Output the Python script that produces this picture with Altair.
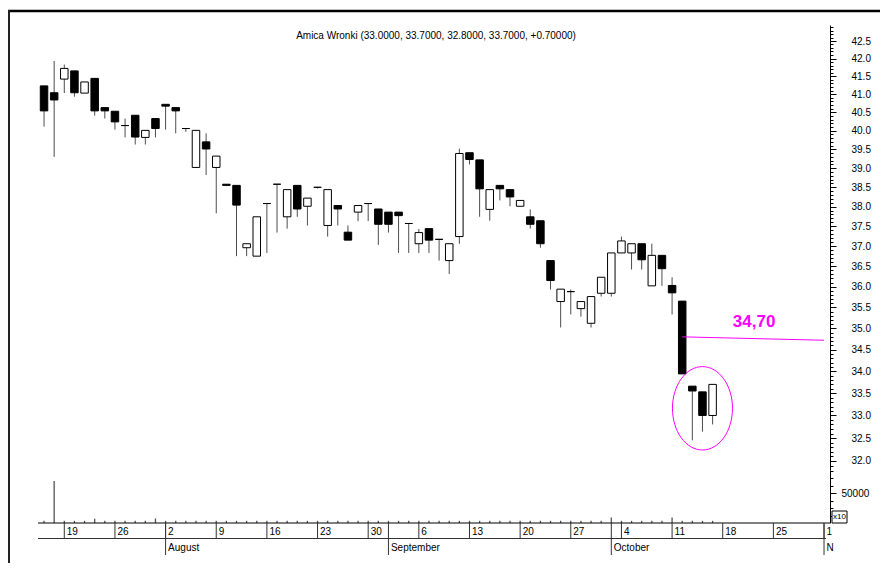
import altair as alt
import pandas as pd

# ---------------- data ----------------
title_text = "Amica Wronki (33.0000, 33.7000, 32.8000, 33.7000, +0.70000)"

first_day = "2004-07-15"
axis_last_day = "2004-11-05"

opens = [41.23, 41.04, 41.42, 41.65, 41.03, 41.44, 40.63, 40.53, 40.14, 40.42,
         39.82, 40.33, 40.72, 40.63, 40.06, 39.02, 39.70, 39.02, 38.58, 38.55,
         36.96, 36.75, 38.08, 38.58, 37.74, 38.55, 38.01, 38.50, 37.52, 38.03,
         37.35, 37.86, 38.08, 37.94, 37.86, 37.86, 37.57, 37.06, 37.44, 37.17,
         36.64, 37.24, 39.41, 39.22, 37.93, 38.55, 38.44, 38.01, 37.74, 37.64,
         36.64, 35.64, 35.88, 35.47, 35.12, 35.84, 35.84, 36.83, 36.83, 37.06,
         36.02, 36.77, 36.03, 35.65, 33.66, 33.53, 33.00]
highs = [41.23, 41.93, 41.83, 41.65, 41.34, 41.44, 40.63, 40.53, 40.33, 40.42,
         40.01, 40.33, 40.72, 40.63, 40.06, 40.01, 39.93, 39.32, 38.58, 38.55,
         37.06, 37.74, 38.08, 38.58, 38.44, 38.55, 38.22, 38.50, 38.44, 38.03,
         37.52, 38.03, 38.08, 37.94, 37.86, 37.86, 37.57, 37.43, 37.44, 37.17,
         37.06, 39.52, 39.41, 39.22, 38.44, 38.55, 38.44, 38.16, 37.93, 37.64,
         36.64, 35.94, 35.93, 35.64, 35.76, 36.23, 36.83, 37.24, 37.06, 37.06,
         37.06, 36.77, 36.23, 35.65, 33.66, 33.53, 33.70]
lows = [40.11, 39.30, 41.03, 40.93, 41.03, 40.41, 40.33, 40.03, 39.82, 39.63,
        39.63, 39.82, 40.03, 39.93, 39.97, 39.02, 38.82, 37.83, 38.53, 36.75,
        36.75, 36.75, 36.83, 37.34, 37.44, 37.74, 37.52, 38.47, 37.24, 37.52,
        37.15, 37.63, 37.63, 37.03, 37.34, 36.83, 36.83, 36.83, 36.83, 36.64,
        36.31, 37.06, 39.10, 37.74, 37.64, 38.16, 38.01, 38.01, 37.44, 36.96,
        35.93, 35.02, 35.33, 35.28, 35.02, 35.76, 35.76, 36.83, 36.42, 36.42,
        36.02, 36.02, 35.33, 33.94, 32.45, 32.64, 32.80]
closes = [40.54, 40.84, 41.72, 41.04, 41.34, 40.54, 40.54, 40.24, 40.14, 39.83,
          40.01, 40.06, 40.67, 40.54, 40.06, 40.01, 39.51, 39.32, 38.55, 38.04,
          37.06, 37.74, 38.08, 38.58, 38.44, 37.94, 38.22, 38.50, 38.44, 37.94,
          37.15, 38.03, 38.08, 37.55, 37.55, 37.77, 37.57, 37.34, 37.15, 37.17,
          37.06, 39.39, 39.23, 38.46, 38.44, 38.46, 38.25, 38.16, 37.55, 37.06,
          36.15, 35.94, 35.88, 35.64, 35.76, 36.23, 36.83, 37.13, 37.06, 36.66,
          36.77, 36.44, 35.85, 33.94, 33.55, 33.00, 33.70]
volumes = [3700, 70500, 3700, 3700, 3700, 7300, 3700, 3700, 3700, 3700,
           3700, 7600, 3700, 3700, 3700, 3700, 3700, 3700, 3700, 3700,
           3700, 3700, 3700, 3700, 3700, 3700, 3700, 3700, 3700, 3700,
           3700, 3700, 3700, 3700, 3700, 3700, 3700, 3700, 3700, 3700,
           3700, 3700, 3700, 3700, 3700, 3700, 3700, 3700, 3700, 3700,
           3700, 3700, 3700, 3700, 3700, 3700, 9200, 3700, 3700, 3700,
           3700, 3700, 9200, 3700, 3700, 3700, 3700]

week_dates = ["2004-07-19", "2004-07-26", "2004-08-02", "2004-08-09", "2004-08-16",
              "2004-08-23", "2004-08-30", "2004-09-06", "2004-09-13", "2004-09-20",
              "2004-09-27", "2004-10-04", "2004-10-11", "2004-10-18", "2004-10-25",
              "2004-11-01"]
week_labels = ["19", "26", "2", "9", "16", "23", "30", "6", "13", "20", "27",
               "4", "11", "18", "25", "1"]
month_dates = ["2004-08-02", "2004-09-01", "2004-10-01", "2004-11-01"]
month_labels = ["August", "September", "October", "November"]

price_ticks = [round(31.9 + 0.1 * i, 1) for i in range(111)]
volume_ticks = [12500, 25000, 37500, 50000, 62500, 75000, 87500]

level_dates = ["2004-10-12", "2004-11-01"]
level_prices = [34.80, 34.72]
level_text = "34,70"
level_text_date = "2004-10-19"
level_text_price = 34.70
ring_date = "2004-10-14"
ring_price = 33.16

# ---------------- tables ----------------
days = pd.bdate_range(first_day, axis_last_day)
slot = {d.strftime("%Y-%m-%d"): i for i, d in enumerate(days)}
trade_days = [d.strftime("%Y-%m-%d") for d in days[:len(opens)]]

candles = pd.DataFrame({
    "date": trade_days,
    "idx": [slot[d] for d in trade_days],
    "open": opens, "high": highs, "low": lows, "close": closes,
    "volume": volumes,
})
weeks = pd.DataFrame({"idx": [slot[d] for d in week_dates], "label": week_labels})
months = pd.DataFrame({"idx": [slot[d] for d in month_dates], "label": month_labels})
level = pd.DataFrame({"idx": [slot[d] for d in level_dates], "price": level_prices})
level_lab = pd.DataFrame({"idx": [slot[level_text_date]], "price": [level_text_price],
                          "label": [level_text]})
ring = pd.DataFrame({"idx": [slot[ring_date]], "price": [ring_price]})
one = pd.DataFrame({"k": [0]})

# ---------------- scales / axes ----------------
FONT = "Liberation Sans, Arial, sans-serif"
W, H = 792, 498
xs = alt.Scale(domain=[-0.596, 77.59], nice=False, zero=False, padding=0)


def X():
    return alt.X("idx:Q", scale=xs, axis=None)


is_major = "abs(datum.value * 2 - round(datum.value * 2)) < 0.001"
ps = alt.Scale(type="log", domain=[31.806, 42.962], range=[445, 0], nice=False)
price_axis = alt.Axis(
    orient="right", values=price_ticks, title=None, grid=False,
    labelExpr=f"{is_major} ? format(datum.value, '.1f') : ''",
    tickSize={"condition": {"test": is_major, "value": 6}, "value": 3},
    tickColor="black", domainColor="black", labelColor="black",
    labelFont=FONT, labelFontSize=10, labelAlign="left", labelBaseline="middle",
    labelPadding=15, labelOverlap=False, labelFlush=False, labelBound=False,
)


def PY(field):
    return alt.Y(field, scale=ps, axis=price_axis)


vs = alt.Scale(domain=[0, 89200], range=[H, 445], nice=False, zero=True)
vol_axis = alt.Axis(
    orient="right", values=volume_ticks, title=None, grid=False,
    labelExpr="datum.value == 50000 ? '50000' : ''",
    tickSize={"condition": {"test": "datum.value == 50000", "value": 6}, "value": 3},
    tickColor="black", domainColor="black", labelColor="black",
    labelFont=FONT, labelFontSize=10, labelAlign="left", labelBaseline="middle",
    labelPadding=5, labelOverlap=False, labelFlush=False, labelBound=False,
)

# ---------------- price layers ----------------
base = alt.Chart(candles)
wicks = base.mark_rule(color="#4d4d4d", strokeWidth=1).encode(
    x=X(), y=PY("low:Q"), y2="high:Q")
bodies = base.mark_bar(size=7.5, stroke="black", strokeWidth=1).encode(
    x=X(), y=PY("open:Q"), y2="close:Q",
    fill=alt.condition("datum.close >= datum.open", alt.value("white"), alt.value("black")))
level_line = alt.Chart(level).mark_line(color="#ff00ff", strokeWidth=1).encode(
    x=X(), y=PY("price:Q"))
level_label = alt.Chart(level_lab).mark_text(
    color="#ff00ff", fontSize=17, fontWeight="bold", font=FONT,
    align="left", baseline="alphabetic", dy=-14).encode(
    x=X(), y=PY("price:Q"), text="label:N")
ellipse_path = "M -0.72 0 A 0.72 1 0 1 1 0.72 0 A 0.72 1 0 1 1 -0.72 0 Z"
ring_mark = alt.Chart(ring).mark_point(
    shape=ellipse_path, size=6956, filled=False, color="#ff00ff",
    strokeWidth=1, opacity=1).encode(x=X(), y=PY("price:Q"))

price_layer = alt.layer(wicks, bodies, level_line, level_label, ring_mark)

# ---------------- volume ----------------
vol_layer = base.mark_rule(color="#555555", strokeWidth=1.3).encode(
    x=X(), y=alt.Y("volume:Q", scale=vs, axis=vol_axis), y2=alt.datum(0))

# ---------------- decorations: date axis, frame, title ----------------
axis_line = alt.Chart(one).mark_rule(color="black", strokeWidth=1).encode(
    x=alt.value(0), x2=alt.value(W), y=alt.value(H))
row_line = alt.Chart(one).mark_rule(color="#333333", strokeWidth=1).encode(
    x=alt.value(0), x2=alt.value(788), y=alt.value(513.5))
week_sep = alt.Chart(weeks).mark_rule(color="#333333", strokeWidth=1).encode(
    x=X(), y=alt.value(H), y2=alt.value(513.5))
month_sep = alt.Chart(months).mark_rule(color="#333333", strokeWidth=1).encode(
    x=X(), y=alt.value(H), y2=alt.value(530))
week_text = alt.Chart(weeks).mark_text(
    align="left", baseline="alphabetic", dx=2.5, fontSize=10, font=FONT,
    color="black").encode(x=X(), y=alt.value(510), text="label:N")
month_text = alt.Chart(months).transform_calculate(
    shown="datum.label == 'November' ? substring(datum.label, 0, 1) : datum.label"
).mark_text(
    align="left", baseline="alphabetic", dx=2.5, fontSize=10, font=FONT,
    color="black").encode(x=X(), y=alt.value(525.5), text="shown:N")

x10_box = alt.Chart(one).mark_rect(fill="white", stroke="black", strokeWidth=1).encode(
    x=alt.value(794), x2=alt.value(809), y=alt.value(486), y2=alt.value(498))
x10_text = alt.Chart(one).mark_text(fontSize=8, font=FONT, color="black",
                                    align="center", baseline="middle").encode(
    x=alt.value(801.5), y=alt.value(492), text=alt.value("x10"))

frame_top = alt.Chart(one).mark_rule(color="black", strokeWidth=2.5).encode(
    x=alt.value(-30), x2=alt.value(845), y=alt.value(-14))
frame_left = alt.Chart(one).mark_rule(color="#222222", strokeWidth=2).encode(
    x=alt.value(-29), y=alt.value(-15), y2=alt.value(540))

title_mark = alt.Chart(one).mark_text(fontSize=10, font=FONT, color="black",
                                      align="center", baseline="middle").encode(
    x=alt.value(398), y=alt.value(11), text=alt.value(title_text))

chart = alt.layer(
    price_layer, vol_layer,
    axis_line, row_line, week_sep, month_sep, week_text, month_text,
    x10_box, x10_text, frame_top, frame_left, title_mark,
).resolve_scale(y="independent").properties(
    width=W, height=H,
    autosize=alt.AutoSizeParams(type="none"),
    padding={"left": 30, "top": 17, "right": 50, "bottom": 40},
    background="white",
).configure_view(stroke=None)

chart.save("out.html", embed_options={"renderer": "svg", "actions": False})
